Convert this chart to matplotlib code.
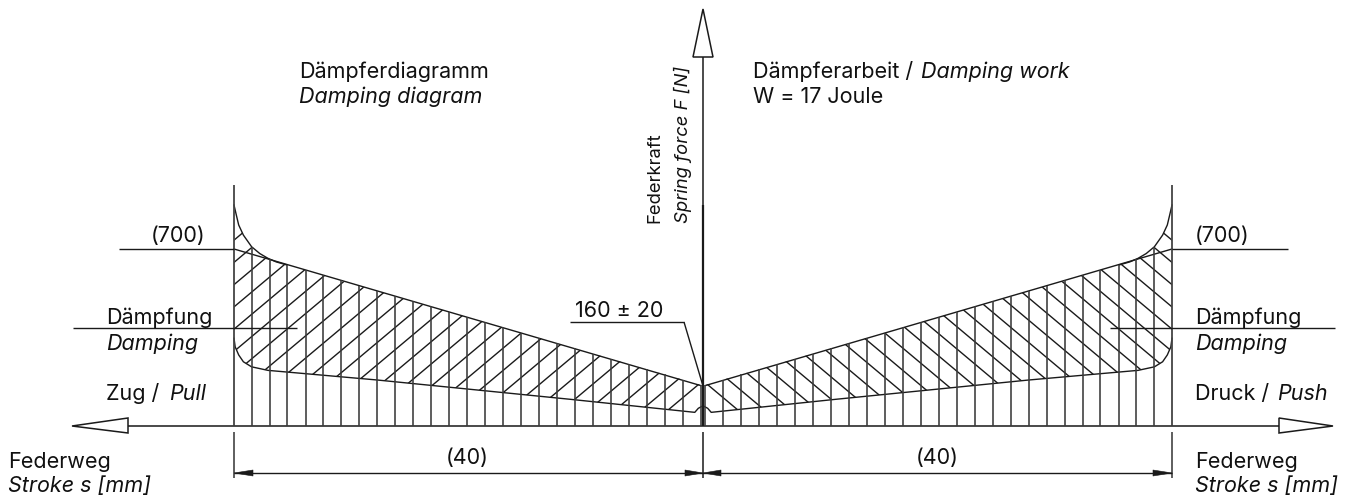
import numpy as np
import matplotlib
matplotlib.use('Agg')
import matplotlib.pyplot as plt
from matplotlib.patches import Polygon

plt.rcParams['font.family'] = ['Inter', 'Liberation Sans', 'DejaVu Sans']

# stroke in mm from centre, force in N
stroke_max = 40
hatch_slope = 38.9  # N per mm
top_force = 700
centre_force = 160

upper_s = [40.0, 39.8, 39.6, 39.2, 38.5, 37.8, 37.1, 36.4, 35.5]
upper_f = [874, 834, 795, 755, 709, 682, 663, 649, 637]
lower_s = [40.0, 39.9, 39.6, 39.2, 38.5, 37.1, 27.8, 11.2, 0.7, 0.4, 0.0]
lower_f = [347, 313, 281, 254, 234, 220, 182, 105, 54, 70, 80]

# stroke grid lines (one side)
grid_s = [0.17, 1.7, 3.24, 4.77, 6.3, 7.84, 9.37, 10.9, 12.44, 13.97, 15.5, 17.04, 18.57,
          20.1, 21.64, 23.17, 24.7, 26.24, 27.77, 29.3, 30.84, 32.37, 33.9, 35.44, 36.97, 38.5]
# force where each hatch line meets the outer stroke
hatch_f = [735, 647, 559, 471, 383, 295, 207, 119, 31, -57, -145, -233, -321, -409, -497,
           -585, -673, -761, -849, -937, -1025, -1113, -1201, -1289, -1377]

px_per_mm = 469 / 40
px_per_n = 177 / 700
W, H = 1349, 497
x0, y0 = 703, 426

fig = plt.figure(figsize=(W / 100, H / 100), dpi=100)
ax = fig.add_axes([0, 0, 1, 1])
ax.set_xlim(-x0 / px_per_mm, (W - x0) / px_per_mm)
ax.set_ylim((y0 - H) / px_per_n, y0 / px_per_n)
ax.axis('off')

ink = '#1a1a1a'
lw = 1.0


def X(px):
    return (px - x0) / px_per_mm


def Y(py):
    return (y0 - py) / px_per_n


def seg(xa, ya, xb, yb, lw=lw, color=ink):
    ax.plot([X(xa), X(xb)], [Y(ya), Y(yb)], color=color, lw=lw, solid_capstyle='butt')


def arrow(pts, fc='white', edge=1.1):
    ax.add_patch(Polygon([(X(a), Y(b)) for a, b in pts], closed=True, fc=fc, ec=ink, lw=edge, zorder=5))


def top_at(s):
    line = centre_force + (top_force - centre_force) * s / stroke_max
    return max(line, np.interp(s, upper_s[::-1], upper_f[::-1], left=0))


for side in (-1, 1):
    us = np.array(upper_s)
    uf = np.array(upper_f)
    ls = np.array(lower_s)
    lf = np.array(lower_f)
    ax.plot([side * 0.2, side * stroke_max], [centre_force, top_force], color=ink, lw=lw)
    ax.plot(side * us, uf, color=ink, lw=lw)
    ax.plot(side * ls, lf, color=ink, lw=lw)

    # hatch stays inside load line, rounded ends and lower curve
    outline = [(0.0, centre_force)]
    outline += [(side * a, b) for a, b in zip(us[::-1], uf[::-1])]
    outline += [(side * a, b) for a, b in zip(ls, lf)]
    clip = Polygon(outline, closed=True, fc='none', ec='none', transform=ax.transData)
    ax.add_patch(clip)
    for f in hatch_f:
        l, = ax.plot([side * stroke_max, 0], [f, f + hatch_slope * stroke_max], color=ink, lw=lw)
        l.set_clip_path(clip)

    for s in grid_s:
        ax.plot([side * s, side * s], [0, top_at(s)], color='#3a3a3a', lw=1.15, solid_capstyle='butt')
    ax.plot([side * stroke_max] * 2, [0, Y(185)], color='#444444', lw=1.3, solid_capstyle='butt')
    ax.plot([side * stroke_max] * 2, [Y(432), Y(478)], color='#333333', lw=1.1, solid_capstyle='butt')

# axes
seg(128, y0, 1279, y0, lw=1.3, color='#3a3a3a')
seg(x0, 57, x0, 426, lw=1.1)
seg(x0, 205, x0, 426, lw=1.6)
seg(x0, 432, x0, 478, lw=1.1)
arrow([(72, y0), (128, 418), (128, 433)])
arrow([(1333, y0), (1279, 418), (1279, 433)])
arrow([(x0, 9), (693, 57), (713, 57)])

# leaders
seg(119, 249, 234, 249)
seg(1172, 249, 1288, 249)
seg(73, 328, 297, 328)
seg(1110, 328, 1335, 328)
seg(570, 322, 684, 322)
seg(684, 322, 703, 386)

# dimension lines
dim_y = 473
seg(234, dim_y, 1172, dim_y)
for tip, back in ((234, 253), (703, 685), (703, 721), (1172, 1153)):
    arrow([(tip, dim_y), (back, dim_y - 3), (back, dim_y + 3)], fc=ink, edge=0.4)

size = 15.5


def txt(px, py, s, italic=False, ha='left', rot=0, size=size):
    ax.text(X(px), Y(py), s, ha=ha, va='baseline', rotation=rot, rotation_mode='anchor',
            fontsize=size, style='italic' if italic else 'normal', color='#111111')


txt(299, 78, 'Dämpferdiagramm')
txt(299, 103, 'Damping diagram', True)
txt(753, 78, 'Dämpferarbeit / ')
txt(753, 103, 'W = 17 Joule')
txt(921, 78, 'Damping work', True)
txt(659, 223, 'Federkraft', rot=90, size=13.3)
txt(688, 223, 'Spring force F [N]', True, rot=90, size=13.3)

txt(151, 242, '(700)')
txt(1195, 242, '(700)')
txt(106, 324, 'Dämpfung')
txt(106, 350, 'Damping', True)
txt(1195, 324, 'Dämpfung')
txt(1195, 350, 'Damping', True)
txt(106, 400, 'Zug / ')
txt(169, 400, 'Pull', True)
txt(1195, 400, 'Druck / ')
txt(1277, 400, 'Push', True)
txt(575, 317, '160 ± 20')
txt(467, 464, '(40)', ha='center')
txt(937, 464, '(40)', ha='center')
txt(8, 468, 'Federweg')
txt(8, 492, 'Stroke s [mm]', True)
txt(1195, 468, 'Federweg')
txt(1195, 492, 'Stroke s [mm]', True)

fig.savefig('out.png', dpi=100)
